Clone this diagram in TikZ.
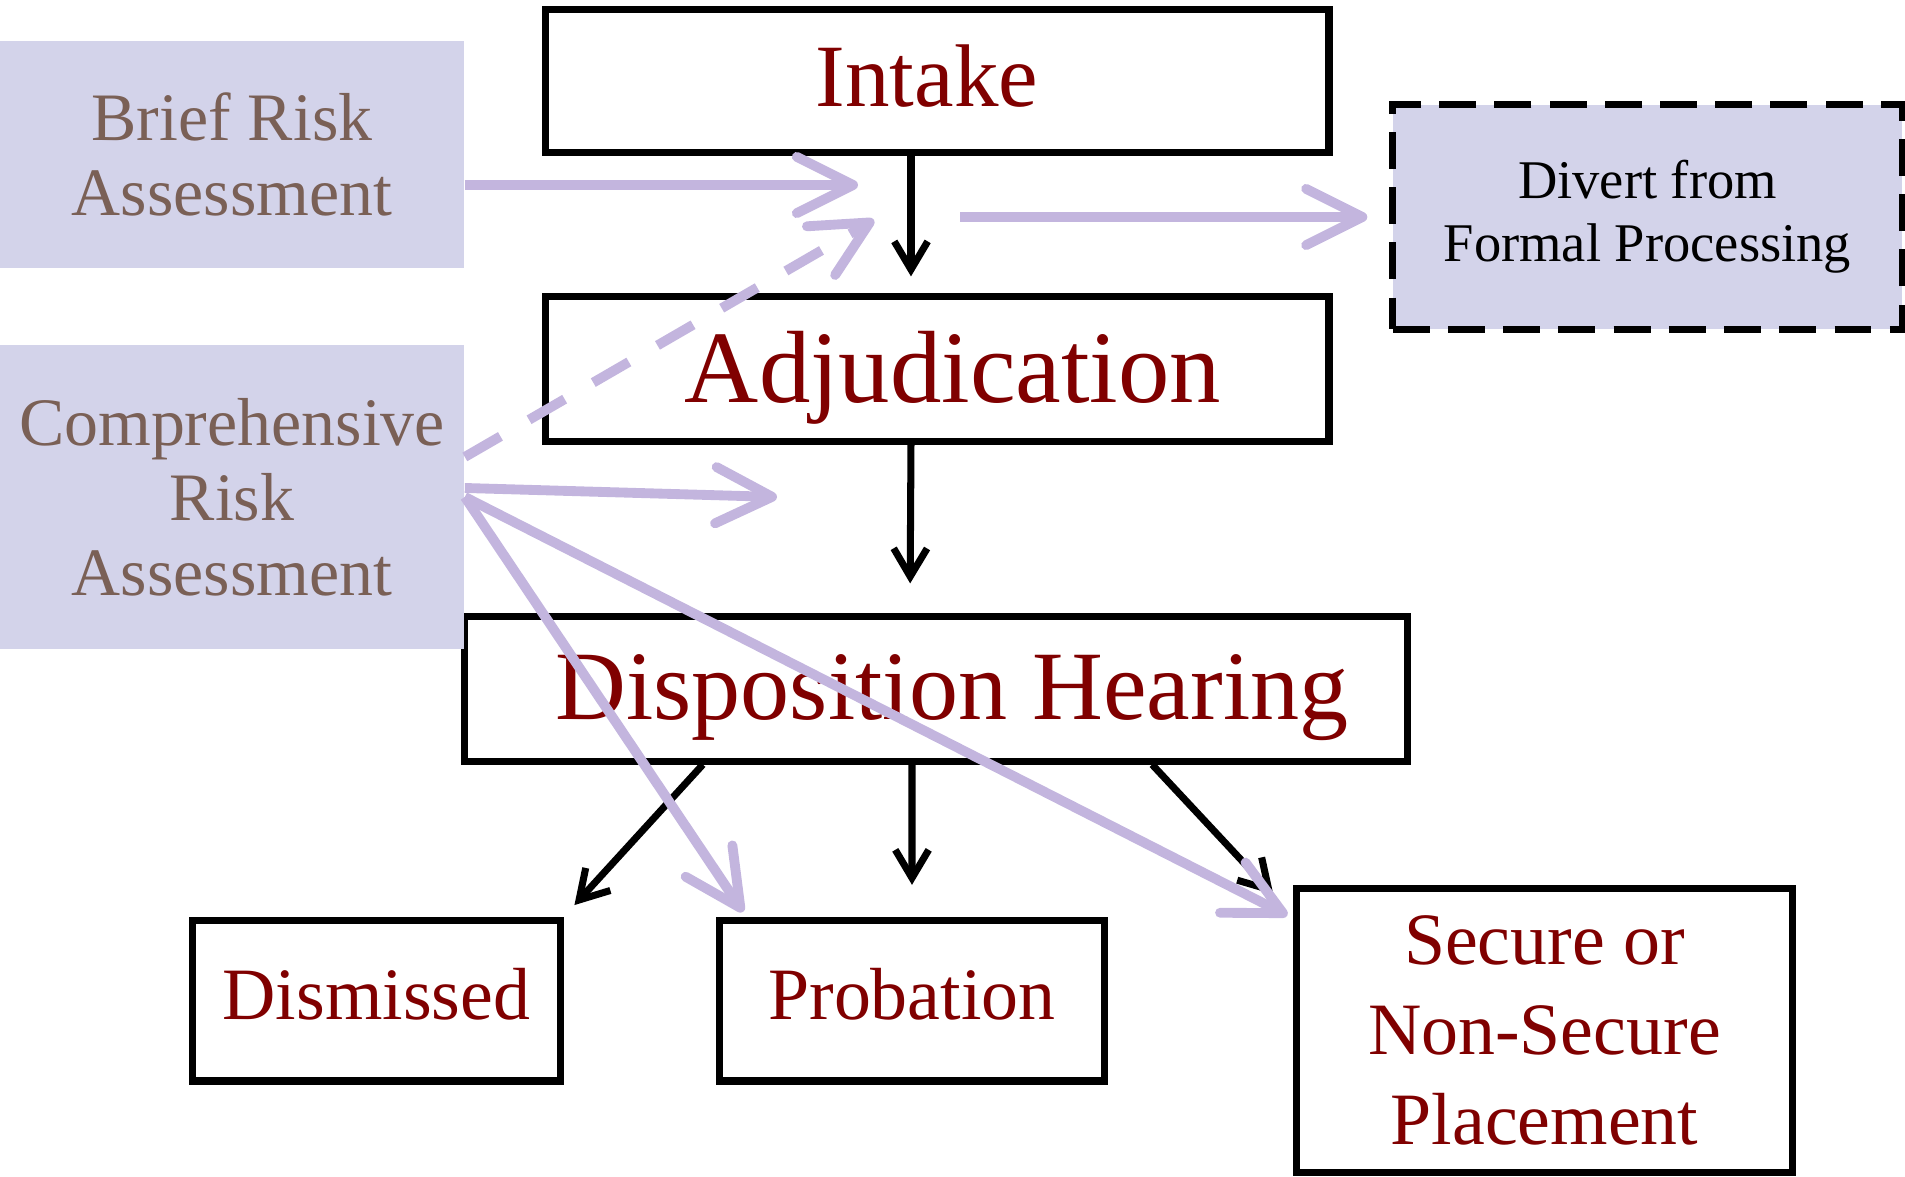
\documentclass[tikz,border=0pt]{standalone}
\usepackage{fontspec}
\setmainfont{Liberation Serif}
\usetikzlibrary{arrows.meta,positioning}
\definecolor{stagered}{HTML}{800000}
\definecolor{riskfill}{HTML}{D3D3EA}
\definecolor{riskbrown}{HTML}{7A6056}
\definecolor{risklilac}{HTML}{C3B5DE}
\tikzset{
    stage/.style={draw,line width=2pt,text=stagered,inner sep=0pt,text depth=.14em},
    outcome/.style={draw,line width=2pt,text=stagered,inner sep=0pt,align=center,
        font=\fontsize{21}{25.5}\selectfont},
    risk/.style={fill=riskfill,text=riskbrown,inner sep=0pt,align=center,
        minimum width=4.64cm,font=\fontsize{19.3}{21.3}\selectfont},
    flow/.style={-{Straight Barb[length=8pt,width=9.5pt]},line width=2pt},
    riskflow/.style={-{Straight Barb[round,length=16pt,width=16pt]},
        line width=2.8pt,risklilac}
}

\begin{document}
\begin{tikzpicture}[x=0.01cm,y=-0.01cm]
    \useasboundingbox (0,0) rectangle (1905,1177);
    % court stages
    \node[stage,minimum width=7.835cm,minimum height=1.43cm,text depth=.28em,
        font=\fontsize{25.3}{30}\selectfont] (intake) at (937,81) {Intake\hspace*{0.2cm}};
    \node[stage,minimum width=7.835cm,minimum height=1.44cm,
        font=\fontsize{29.2}{35}\selectfont] (adj) at (937,369) {\hspace*{0.32cm}Adjudication};
    \node[stage,minimum width=9.43cm,minimum height=1.44cm,
        font=\fontsize{27.9}{33}\selectfont] (disp) at (936,689) {\hspace*{0.32cm}Disposition Hearing};
    \node[outcome,minimum width=3.67cm,minimum height=1.605cm,text depth=.38em]
        (dism) at (376.5,1000.7) {Dismissed};
    \node[outcome,minimum width=3.846cm,minimum height=1.605cm,text depth=.38em]
        (prob) at (912,1000.7) {Probation};
    \node[outcome,minimum width=4.95cm,minimum height=2.83cm]
        (secure) at (1544.5,1030.5) {Secure or\\Non-Secure\\Placement};
    \node[fill=riskfill,draw,line width=2pt,dash pattern=on 10.5pt off 5.2pt,
        inner sep=0pt,align=center,minimum width=5.09cm,minimum height=2.24cm,
        font=\fontsize{15.5}{18}\selectfont] (divert) at (1647.5,217)
        {Divert from\\Formal Processing};
    % risk assessments
    \node[risk,minimum height=2.27cm] (brief) at (232,154.5) {Brief Risk\\Assessment};
    \node[risk,minimum height=3.036cm] (comp) at (232,497) {Comprehensive\\Risk\\Assessment};

    \coordinate (briefTip) at (858,185);
    \coordinate (dashTip) at (874,220);
    \coordinate (compTip) at (777,497);
    \coordinate (divStart) at (960,217);

    \path[flow]
        ([xshift=-0.26cm]intake.south) edge[shorten >=0.17cm] ([xshift=-0.26cm]adj.north)
        ([xshift=-0.26cm]adj.south) edge[shorten >=0.30cm] ([xshift=-0.26cm]disp.north)
        ([xshift=-2.33cm]disp.south) edge[shorten >=0.16cm] (dism.north east)
        ([xshift=-0.24cm]disp.south) edge[shorten >=0.32cm] (prob.north)
        ([xshift=2.16cm]disp.south) edge ([xshift=-0.20cm,yshift=-0.09cm]secure.north west);

    \path[riskflow]
        (brief.east |- briefTip) edge (briefTip)
        ([yshift=0.40cm]comp.east) edge[dash pattern=on 11.7pt off 9.4pt] (dashTip)
        ([yshift=0.09cm]comp.east) edge (compTip)
        (comp.east) edge ([xshift=0.27cm,yshift=0.05cm]prob.north west)
        (comp.east) edge ([xshift=-0.06cm,yshift=-0.30cm]secure.north west)
        (divStart) edge[shorten >=0.22cm] (divert.west);
\end{tikzpicture}
\end{document}
